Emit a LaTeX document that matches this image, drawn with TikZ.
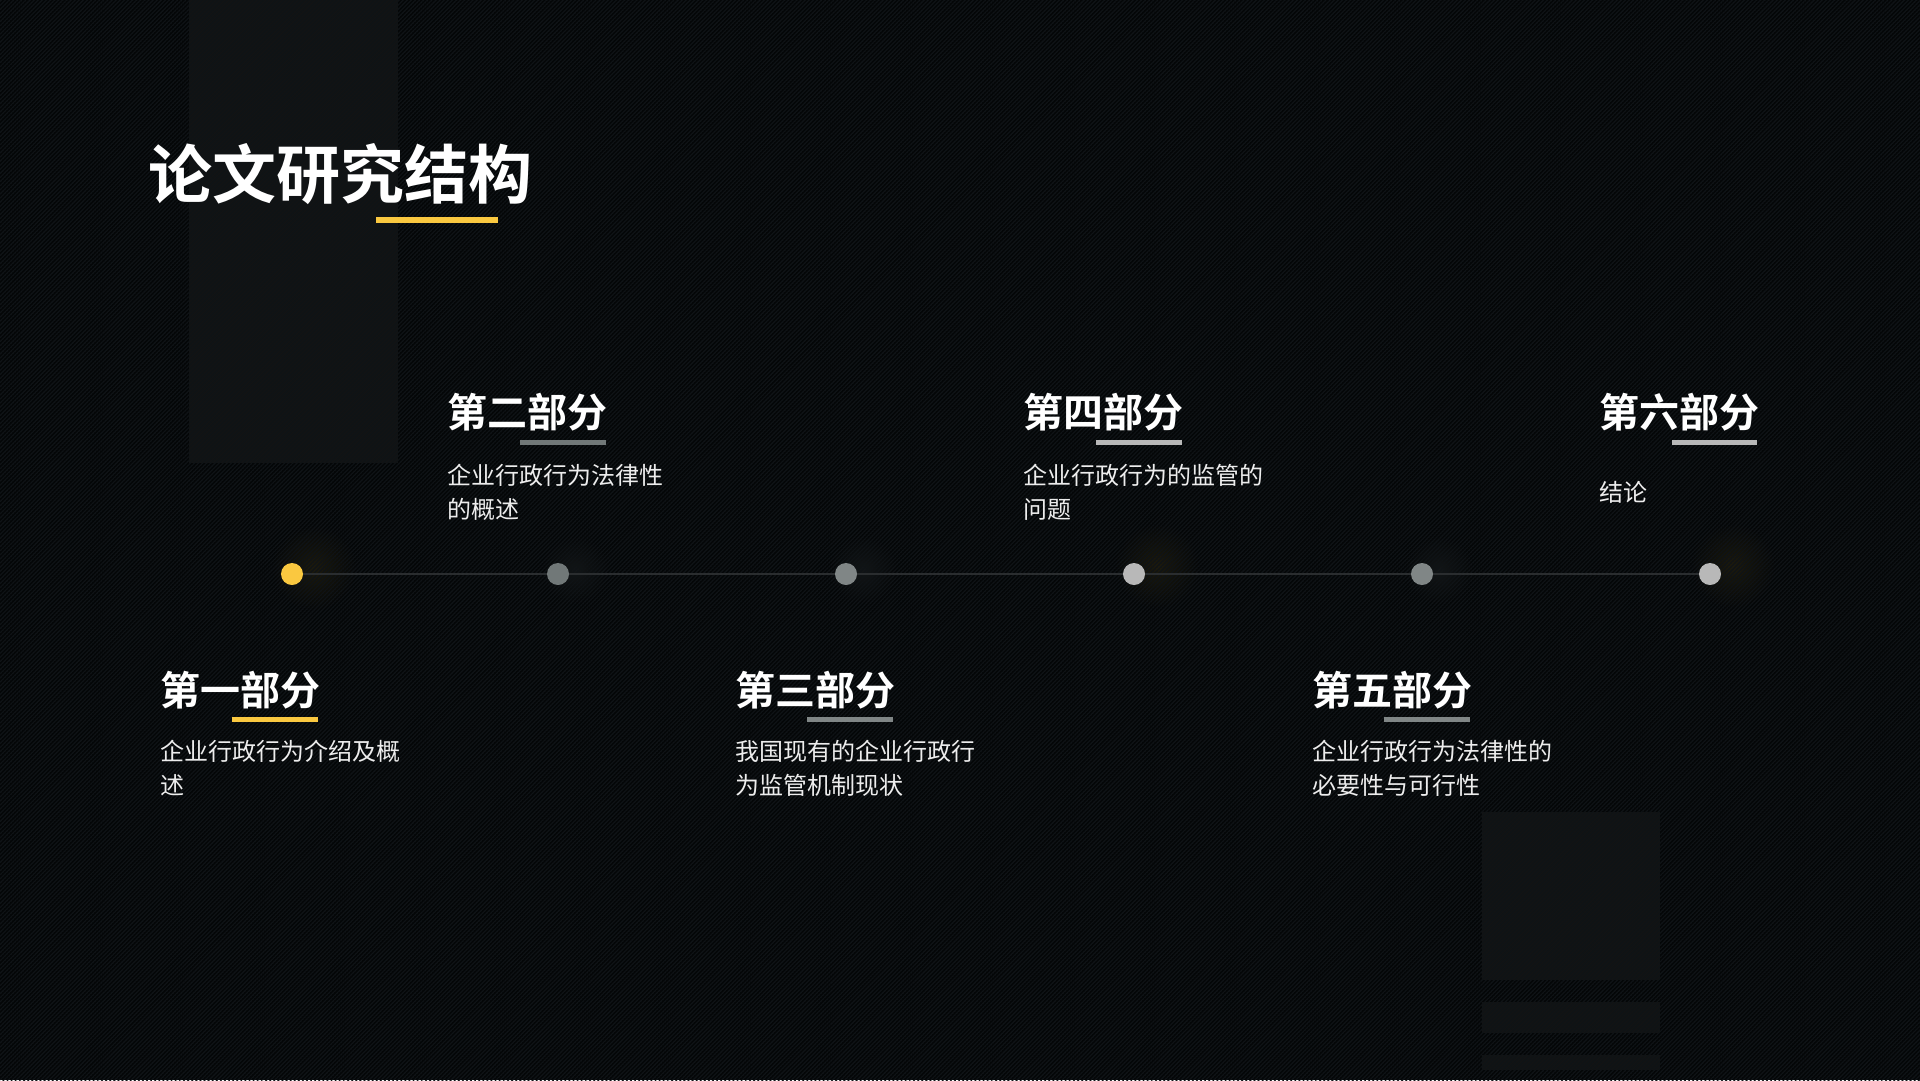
\documentclass[tikz,border=0pt]{standalone}
\usepackage{fontspec}
\setmainfont{Noto Sans CJK SC}[BoldFont={Noto Sans CJK SC Bold}]
\usepackage{xcolor}
\usetikzlibrary{patterns.meta}
\definecolor{bgc}{HTML}{040607}
\definecolor{stripec}{HTML}{0F1316}
\definecolor{panelc}{HTML}{121314}
\definecolor{accent}{HTML}{FAC840}
\definecolor{railc}{HTML}{2A2D2F}
\definecolor{greyd}{HTML}{717878}
\definecolor{greym}{HTML}{808686}
\definecolor{greyl}{HTML}{B8B8B8}
\definecolor{textc}{HTML}{EDEDED}
\definecolor{glowy}{HTML}{1E1B0D}
\definecolor{glowg}{HTML}{131617}

\tikzdeclarepattern{
  name=diag,
  type=uncolored,
  bounding box={(0pt,-0.7pt) and (2.9pt,0.7pt)},
  tile size={(2.9pt,2.9pt)},
  tile transformation={rotate=45},
  code={\draw[line width=1.3pt] (0pt,0pt) -- (2.9pt,0pt);}
}

\begin{document}
\begin{tikzpicture}[x=1pt,y=-1pt,
  head/.style={anchor=base west,inner sep=0pt,text=white,
               font=\fontsize{40}{40}\selectfont\bfseries},
  desc/.style={anchor=base west,inner sep=0pt,text=textc,align=left,
               font=\fontsize{24}{34}\selectfont},
  uline/.style={line width=5pt},
  dot/.style={circle,inner sep=0pt,minimum size=22pt},
  rail/.style={draw=railc,line width=2pt},
  panel/.style={fill=panelc}
]
\useasboundingbox (0,0) rectangle (1920,1080);
\fill[bgc] (0,0) rectangle (1920,1080);

% backdrop blocks
\fill[panel] (189,0) rectangle (398,463);
\fill[panel] (1482,812) rectangle (1660,980);
\fill[panel] (1482,1002) rectangle (1660,1033);
\fill[panel] (1482,1055) rectangle (1660,1070);

% soft halos
\shade[inner color=glowy,outer color=bgc] (314,568) circle (42);
\shade[inner color=glowg,outer color=bgc] (575,570) circle (34);
\shade[inner color=glowg,outer color=bgc] (863,570) circle (34);
\shade[inner color=glowy,outer color=bgc] (1157,566) circle (42);
\shade[inner color=glowg,outer color=bgc] (1439,570) circle (34);
\shade[inner color=glowy,outer color=bgc] (1733,566) circle (42);

\fill[pattern=diag,pattern color=stripec] (0,0) rectangle (1920,1080);

% title
\node[anchor=base west,inner sep=0pt,text=white,
      font=\fontsize{64}{64}\selectfont\bfseries] (title) at (148,198) {论文研究结构};
\draw[accent,line width=6pt] (376,220) -- (498,220);

% timeline
\node[dot,fill=accent] (d1) at (292,574) {};
\node[dot,fill=greyd] (d2) at (558,574) {};
\node[dot,fill=greym] (d3) at (846,574) {};
\node[dot,fill=greyl] (d4) at (1134,574) {};
\node[dot,fill=greym] (d5) at (1422,574) {};
\node[dot,fill=greyl] (d6) at (1710,574) {};
\draw[rail] (d1) -- (d2);
\draw[rail] (d2) -- (d3);
\draw[rail] (d3) -- (d4);
\draw[rail] (d4) -- (d5);
\draw[rail] (d5) -- (d6);

% parts (desc nodes sit on their last line)
\node[head] (h1) at (160,705) {第一部分};
\draw[uline,accent] (232,719.5) -- (318,719.5);
\node[desc] (t1) at (160,794) {企业行政行为介绍及概\\述};

\node[head] (h2) at (447,427) {第二部分};
\draw[uline,greyd] (520,442) -- (606,442);
\node[desc] (t2) at (447,518) {企业行政行为法律性\\的概述};

\node[head] (h3) at (735,705) {第三部分};
\draw[uline,greym] (807,719.5) -- (893,719.5);
\node[desc] (t3) at (735,794) {我国现有的企业行政行\\为监管机制现状};

\node[head] (h4) at (1023,427) {第四部分};
\draw[uline,greyl] (1096,442) -- (1182,442);
\node[desc] (t4) at (1023,518) {企业行政行为的监管的\\问题};

\node[head] (h5) at (1312,705) {第五部分};
\draw[uline,greym] (1384,719.5) -- (1470,719.5);
\node[desc] (t5) at (1312,794) {企业行政行为法律性的\\必要性与可行性};

\node[head] (h6) at (1599,427) {第六部分};
\draw[uline,greyl] (1672,442) -- (1757,442);
\node[desc] (t6) at (1599,501) {结论};
\end{tikzpicture}
\end{document}
